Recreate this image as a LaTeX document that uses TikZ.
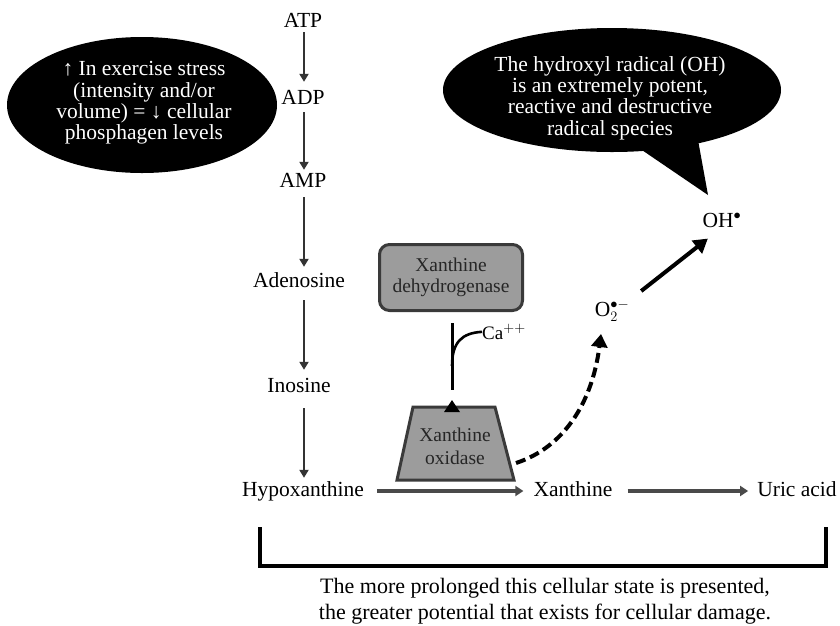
\documentclass[tikz,border=0pt]{standalone}
\usepackage{fontspec}
\setmainfont{Liberation Serif}
\usetikzlibrary{arrows.meta,calc,shapes.geometric}
\definecolor{boxgray}{HTML}{9C9C9C}
\definecolor{boxedge}{HTML}{3A3A3A}
\definecolor{arrgray}{HTML}{333333}
\definecolor{harrgray}{HTML}{4A4A4A}
\begin{document}
\begin{tikzpicture}[x=1pt,y=-1pt,
  lbl/.style={inner sep=0pt, font=\fontsize{21.5}{23}\selectfont, text height=14pt, text depth=4pt, anchor=base},
  vline/.style={draw=arrgray, line width=2.6pt, -{Triangle[width=9pt,length=8pt]}},
  hline/.style={draw=harrgray, line width=3.6pt, -{Triangle[width=10pt,length=8pt]}},
  enz/.style={draw=boxedge, fill=boxgray, line width=3pt},
  enztxt/.style={inner sep=0pt, align=center, text=black!85},
  blob/.style={ellipse, fill=black, draw=none, inner sep=0pt},
  blobtxt/.style={inner sep=0pt, align=center, text=white, font=\fontsize{21.5}{21.4}\selectfont},
  solidarr/.style={draw=black, line width=4pt, -{Triangle[width=16pt,length=14pt]}},
  dasharr/.style={draw=black, line width=4pt, dash pattern=on 10pt off 5pt, -{Triangle[width=16pt,length=13pt]}},
  bar/.style={draw=black, line width=4pt}
]
\useasboundingbox (0,0) rectangle (840,625);

% left ellipse
\node[blob, minimum width=270pt, minimum height=136pt] (stress) at (142,105) {};
\node[blobtxt] (stresstxt) at (144,103) {↑ In exercise stress\\(intensity and/or\\volume) = ↓ cellular\\phosphagen levels};

% speech bubble
\node[blob, minimum width=338pt, minimum height=124pt] (bubble) at (612,90) {};
\fill[black] (636,146) -- (708,195) -- (698,140) -- cycle;
\node[blobtxt] (bubbletxt) at (610,98) {The hydroxyl radical (OH)\\is an extremely potent,\\reactive and destructive\\radical species};

% main chain
\node[lbl] (atp) at (303,27) {ATP};
\node[lbl] (adp) at (303,104) {ADP};
\node[lbl] (amp) at (303,187) {AMP};
\node[lbl] (ado) at (299,287) {Adenosine};
\node[lbl] (ino) at (299,392) {Inosine};
\node[lbl] (hyp) at (303,496) {Hypoxanthine};
\node[lbl] (xan) at (573,496) {Xanthine};
\node[lbl] (uric) at (797,496) {Uric acid};
\coordinate (axis) at (304,0);

\draw[vline, shorten <=1pt, shorten >=8pt] (atp.south -| axis) -- (adp.north -| axis);
\draw[vline, shorten <=4pt, shorten >=3pt] (adp.south -| axis) -- (amp.north -| axis);
\draw[vline, shorten <=6pt, shorten >=6pt] (amp.south -| axis) -- (ado.north -| axis);
\draw[vline, shorten <=9pt, shorten >=8pt] (ado.south -| axis) -- (ino.north -| axis);
\draw[vline, shorten <=12pt, shorten >=4pt] (ino.south -| axis) -- (hyp.north -| axis);

\draw[hline, shorten <=13pt, shorten >=10pt] (hyp.east) -- (hyp.east -| xan.west);
\draw[hline, shorten <=15pt, shorten >=9pt] (xan.east) -- (xan.east -| uric.west);

% xanthine dehydrogenase
\node[enz, enztxt, rounded corners=10pt, minimum width=143pt, minimum height=66pt,
      font=\fontsize{19.5}{21}\selectfont] (xdh) at (451,277.5) {Xanthine\\dehydrogenase};

% xanthine oxidase trapezoid
\draw[enz, line join=miter] (413,407) -- (495,407) -- (514,480) -- (397,480) -- cycle;
\node[enztxt, font=\fontsize{19.5}{23}\selectfont] (xo) at (455,446) {Xanthine\\oxidase};
\coordinate (xotop) at (452,407);
\fill[black] ($(xotop)+(-8,5)$) -- ($(xotop)+(8,5)$) -- ($(xotop)+(0,-7)$) -- cycle;

% Ca++ branch
\draw[draw=black, line width=3pt, shorten <=11pt, shorten >=17pt] (xdh.south -| xotop) -- (xotop);
\node[inner sep=0pt, anchor=base west, font=\fontsize{19}{20}\selectfont] (ca) at (482,339) {Ca$^{++}$};
\coordinate (branch) at (452,366);
\draw[draw=black, line width=2.6pt] (branch) .. controls (452,342) and (462,333) .. (ca.west);

% radicals
\node[inner sep=0pt, font=\fontsize{21.5}{23}\selectfont] (o2) at (612,311) {O$_2^{\bullet-}$};
\node[inner sep=0pt, font=\fontsize{21.5}{23}\selectfont] (oh) at (722,220) {OH$^{\bullet}$};
\draw[solidarr, shorten <=15pt, shorten >=18pt] (o2.north east) -- (oh.south);

\coordinate (xoedge) at (516,463);
\coordinate (o2in) at (601,334);
\draw[dasharr] (xoedge) .. controls (562,448) and (592,405) .. (o2in);

% bracket
\draw[bar, line join=miter] (260,527) -- (260,566) -- (826,566) -- (826,527);
\node[inner sep=0pt, align=center, font=\fontsize{22}{26}\selectfont] (note) at (545,601)
  {The more prolonged this cellular state is presented,\\the greater potential that exists for cellular damage.};
\end{tikzpicture}
\end{document}
